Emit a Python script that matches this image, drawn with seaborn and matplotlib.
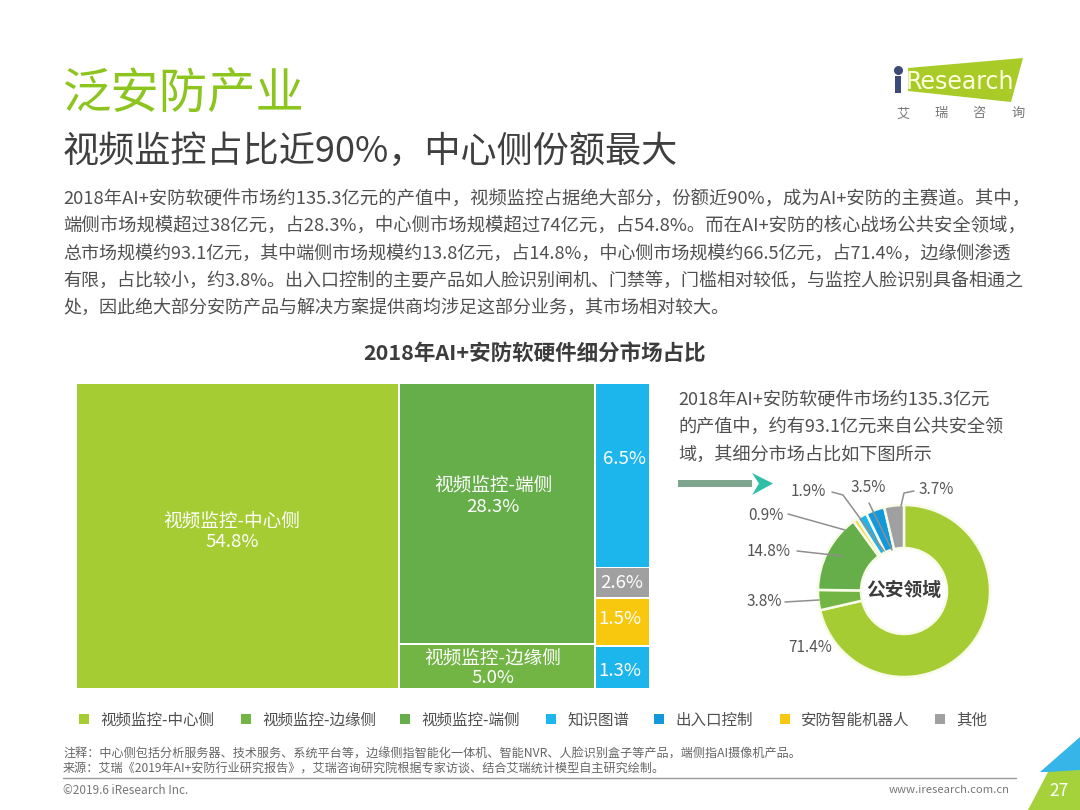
import matplotlib
matplotlib.use("Agg")
import matplotlib.pyplot as plt
from matplotlib.patches import Polygon
import seaborn as sns

sns.set_theme(style="white")
plt.rcParams['font.family'] = ['Noto Sans CJK SC', 'DejaVu Sans']

# ---- data ----
tile_names = ["视频监控-中心侧", "视频监控-端侧", "视频监控-边缘侧", "知识图谱", "其他", "安防智能机器人", "出入口控制"]
tile_values = [54.8, 28.3, 5.0, 6.5, 2.6, 1.5, 1.3]
legend_names = ["视频监控-中心侧", "视频监控-边缘侧", "视频监控-端侧", "知识图谱", "出入口控制", "安防智能机器人", "其他"]
donut_values = [71.4, 3.8, 14.8, 0.9, 1.9, 3.5, 3.7]
donut_labels = ["71.4%", "3.8%", "14.8%", "0.9%", "1.9%", "3.5%", "3.7%"]

LIME = "#A5CC32"; MID = "#72B544"; GREEN = "#66AE4A"; CYAN = "#1CB5EC"
BLUE = "#1398DC"; YEL = "#F8C80E"; GREY = "#A0A0A0"
legend_colors = [LIME, MID, GREEN, CYAN, BLUE, YEL, GREY]
donut_colors = [LIME, MID, GREEN, "#F6D94A", CYAN, BLUE, GREY]

title = "泛安防产业"
subtitle = "视频监控占比近90%，中心侧份额最大"
body = ["2018年AI+安防软硬件市场约135.3亿元的产值中，视频监控占据绝大部分，份额近90%，成为AI+安防的主赛道。其中，",
        "端侧市场规模超过38亿元，占28.3%，中心侧市场规模超过74亿元，占54.8%。而在AI+安防的核心战场公共安全领域，",
        "总市场规模约93.1亿元，其中端侧市场规模约13.8亿元，占14.8%，中心侧市场规模约66.5亿元，占71.4%，边缘侧渗透",
        "有限，占比较小，约3.8%。出入口控制的主要产品如人脸识别闸机、门禁等，门槛相对较低，与监控人脸识别具备相通之",
        "处，因此绝大部分安防产品与解决方案提供商均涉足这部分业务，其市场相对较大。"]
body_sizes = [13.2, 13.2, 13.0, 13.0, 13.0]
side = ["2018年AI+安防软硬件市场约135.3亿元", "的产值中，约有93.1亿元来自公共安全领", "域，其细分市场占比如下图所示"]
notes = ["注释：中心侧包括分析服务器、技术服务、系统平台等，边缘侧指智能化一体机、智能NVR、人脸识别盒子等产品，端侧指AI摄像机产品。",
         "来源：艾瑞《2019年AI+安防行业研究报告》，艾瑞咨询研究院根据专家访谈、结合艾瑞统计模型自主研究绘制。"]

W, H = 1080, 810
fig = plt.figure(figsize=(W / 100, H / 100), dpi=100, facecolor="white")
bg = fig.add_axes([0, 0, 1, 1])
bg.set_xlim(0, W); bg.set_ylim(H, 0); bg.axis("off")


def T(x, y, s, size, color="#505050", **kw):
    kw.setdefault("va", "center")
    bg.text(x, y + 2, s, fontsize=size, color=color, **kw)


T(63, 92, title, 34.8, "#8DC51F")
T(63, 150, subtitle, 26, "#3F3F3F")
for i, line in enumerate(body):
    T(63, 198 + i * 27, line, body_sizes[i], "#505050")
T(535, 351, "2018年AI+安防软硬件细分市场占比", 15.5, "#3C3C3C", ha="center", fontweight="bold")
for i, line in enumerate(side):
    T(678, 398 + i * 27.2, line, 13.1, "#505050")

# ---- treemap: tile extents as they appear in the picture ----
tm = fig.add_axes([77 / W, 1 - 688 / H, (649 - 77) / W, (688 - 384) / H])
tm.set_xlim(77, 649); tm.set_ylim(688, 384); tm.axis("off")
tile_left = [77, 400, 400, 596, 596, 596, 596]
tile_width = [321, 194, 194, 53, 53, 53, 53]
tile_top = [384, 384, 645, 384, 568, 599, 647]
tile_height = [304, 259, 43, 183, 29, 46, 41]
tile_colors = [LIME, GREEN, MID, CYAN, GREY, YEL, CYAN]
tm.bar(tile_left, tile_height, width=tile_width, bottom=tile_top, align="edge", color=tile_colors, linewidth=0)
tile_label_x = [232, 493, 493, 625, 622, 620, 620]
tile_label_y = [532, 497, 669, 459, 583, 619, 671]
for i, (n, v) in enumerate(zip(tile_names, tile_values)):
    s = f"{n}\n{v}%" if i < 3 else f"{v}%"
    tm.text(tile_label_x[i], tile_label_y[i], s, color="white", fontsize=13.4, ha="center", va="center",
            linespacing=1.05 if i == 2 else 1.15)

# ---- arrow ----
bg.add_patch(Polygon([(678, 480), (752, 480), (752, 487), (678, 487)], color="#7FA58F", lw=0))
bg.add_patch(Polygon([(752, 473), (773, 483.5), (752, 495), (759, 483.5)], color="#2FBFA8", lw=0))

# ---- donut ----
R = 86
cx, cy = 904, 591
pa = fig.add_axes([(cx - R) / W, 1 - (cy + R) / H, 2 * R / W, 2 * R / H])
pa.pie(donut_values, colors=donut_colors, startangle=90, counterclock=False, radius=1,
       wedgeprops=dict(width=0.5, edgecolor="#F7FBE8", linewidth=1.8))
pa.set_xlim(-1, 1); pa.set_ylim(-1, 1)
T(cx, 589, "公安领域", 13.5, "#3C3C3C", ha="center", fontweight="bold")

label_pos = [(810, 646), (764, 600), (769, 550), (766, 513), (808, 490), (868, 486), (936, 488)]
leaders = [None,
           [(785, 602), (819, 600)],
           [(797, 551), (842, 556)],
           [(788, 514), (845, 530)],
           [(832, 492), (843, 495), (884, 551)],
           [(869, 503), (892, 550)],
           [(914, 491), (904, 493), (901, 506)]]
for (x, y), s, ld in zip(label_pos, donut_labels, leaders):
    T(x, y, s, 11, "#555555", ha="center")
    if ld:
        bg.plot(*zip(*ld), color="#8F8F8F", lw=1.1, zorder=5)
bg.set_zorder(3); bg.patch.set_alpha(0)

# ---- legend ----
lx = [84, 246, 405, 551, 659, 785, 940]
for x, c, n in zip(lx, legend_colors, legend_names):
    bg.add_patch(Polygon([(x - 5, 714), (x + 5, 714), (x + 5, 724), (x - 5, 724)], color=c, lw=0))
    T(x + 16, 718, n, 11.2, "#505050")

# ---- footer ----
T(63, 752, notes[0], 8.7, "#666666")
T(63, 767, notes[1], 8.7, "#666666")
bg.plot([63, 1016], [778, 778], color="#9A9A9A", lw=1)
T(63, 788, "©2019.6 iResearch Inc.", 8.5, "#777777")
T(1010, 788, "www.iresearch.com.cn", 8.1, "#777777", ha="right")

# ---- corner ----
bg.add_patch(Polygon([(1080, 737), (1080, 772), (1040, 772)], color="#35B5E8", lw=0))
bg.add_patch(Polygon([(1080, 770), (1080, 810), (1028, 810), (1048, 772)], color="#A5D23A", lw=0))
T(1059, 789, "27", 12.5, "white", ha="center")

# ---- logo ----
bg.add_patch(Polygon([(908, 68), (1023, 58), (1011, 102), (908, 91)], color="#A8CB28", lw=0))
bg.scatter([898], [70], s=30, color="#3C4A7A", zorder=4)
bg.add_patch(Polygon([(895, 76), (901, 76), (901, 93), (895, 93)], color="#3C4A7A", lw=0))
T(906, 80, "Research", 17, "#FFFFE0", family=["DejaVu Sans"])
for x, ch in zip([903, 941, 979, 1018], "艾瑞咨询"):
    T(x, 112, ch, 9.5, "#777777", ha="center")

fig.savefig("out.png", dpi=100)
